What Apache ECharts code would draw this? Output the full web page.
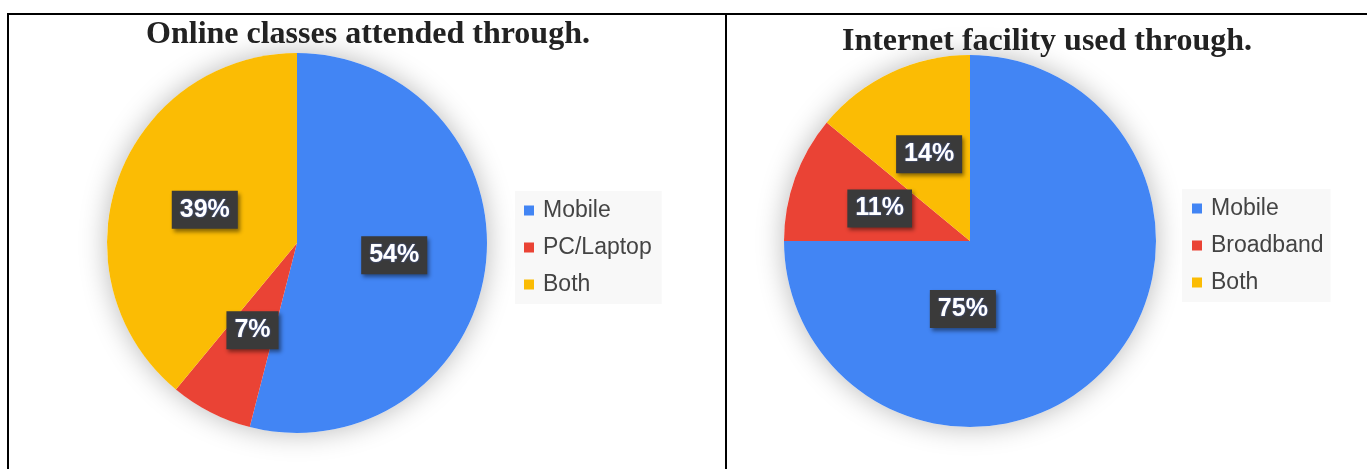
<!DOCTYPE html>
<html>
<head>
<meta charset="utf-8">
<script src="https://cdn.jsdelivr.net/npm/echarts@6/dist/echarts.min.js"></script>
<style>
html,body{margin:0;padding:0;background:#fff;}
#c{width:1367px;height:469px;}
</style>
</head>
<body>
<div id="c"></div>
<script>
// ---- data ----
const title1 = 'Online classes attended through.';
const title2 = 'Internet facility used through.';
const categories1 = ['Mobile', 'PC/Laptop', 'Both'];
const values1 = [54, 7, 39];
const categories2 = ['Mobile', 'Broadband', 'Both'];
const values2 = [75, 11, 14];
const colors = ['#4285F4', '#EA4335', '#FBBC04'];

const chart = echarts.init(document.getElementById('c'), null, {renderer: 'canvas'});

function mkData(cats, vals) {
  return cats.map((c, i) => ({name: c, value: vals[i], itemStyle: {color: colors[i]}}));
}

const labelStyle = {
  show: true,
  position: 'inside',
  formatter: '{d}%',
  fontFamily: 'Arial, "Liberation Sans", sans-serif',
  fontWeight: 'bold',
  fontSize: 25,
  color: '#fff',
  backgroundColor: '#3a3a3a',
  padding: [7, 8, 6, 8],
  shadowColor: 'rgba(0,0,0,0.45)',
  shadowBlur: 4,
  shadowOffsetX: 2,
  shadowOffsetY: 3,
  textShadowColor: 'rgba(90,130,255,0.7)',
  textShadowBlur: 2
};

const legendText = {
  fontFamily: 'Arial, "Liberation Sans", sans-serif',
  fontSize: 23,
  color: '#444',
  lineHeight: 23,
  padding: [0, 0, 0, 4]
};

const titleText = {
  fontFamily: '"Liberation Serif", "DejaVu Serif", serif',
  fontWeight: 'bold',
  fontSize: 32,
  color: '#222'
};

function shadowPie(center, r) {
  return {
    type: 'pie', silent: true, z: 1,
    center: center, radius: r,
    startAngle: 90,
    label: {show: false}, labelLine: {show: false},
    tooltip: {show: false},
    itemStyle: {color: '#fff', shadowBlur: 28, shadowColor: 'rgba(0,0,0,0.28)'},
    data: [{name: '_bg', value: 1}]
  };
}

const option = {
  animation: false,
  title: [
    {text: title1, left: 363, top: 14, textAlign: 'center', textStyle: titleText},
    {text: title2, left: 1042, top: 21, textAlign: 'center', textStyle: titleText}
  ],
  legend: [
    {
      data: categories1, orient: 'vertical',
      left: 515, top: 191,
      padding: [8, 10, 8, 9],
      backgroundColor: '#f8f8f8',
      icon: 'rect', itemWidth: 10, itemHeight: 10, itemGap: 14,
      textStyle: legendText,
      selectedMode: false
    },
    {
      data: categories2, orient: 'vertical',
      left: 1182, top: 189,
      padding: [8, 7, 8, 10],
      backgroundColor: '#f8f8f8',
      icon: 'rect', itemWidth: 10, itemHeight: 10, itemGap: 14,
      textStyle: legendText,
      selectedMode: false
    }
  ],
  series: [
    shadowPie([297, 243], 190),
    shadowPie([970, 241], 186),
    {
      type: 'pie', z: 2,
      center: [297, 243], radius: 190,
      startAngle: 90, clockwise: true,
      legendHoverLink: false,
      label: labelStyle,
      labelLine: {show: false},
      data: mkData(categories1, values1)
    },
    {
      type: 'pie', z: 2,
      center: [970, 241], radius: 186,
      startAngle: 90, clockwise: true,
      legendHoverLink: false,
      label: labelStyle,
      labelLine: {show: false},
      labelLayout: function (p) {
        if (p.dataIndex === 0) return {dx: -75, dy: 0};
        return {};
      },
      data: mkData(categories2, values2)
    }
  ],
  graphic: [
    {type: 'line', shape: {x1: 7, y1: 14, x2: 1367, y2: 14}, style: {stroke: '#000', lineWidth: 2}, z: 100},
    {type: 'line', shape: {x1: 8, y1: 13, x2: 8, y2: 469}, style: {stroke: '#000', lineWidth: 2}, z: 100},
    {type: 'line', shape: {x1: 726, y1: 13, x2: 726, y2: 469}, style: {stroke: '#000', lineWidth: 2}, z: 100}
  ]
};

chart.setOption(option);
</script>
</body>
</html>
